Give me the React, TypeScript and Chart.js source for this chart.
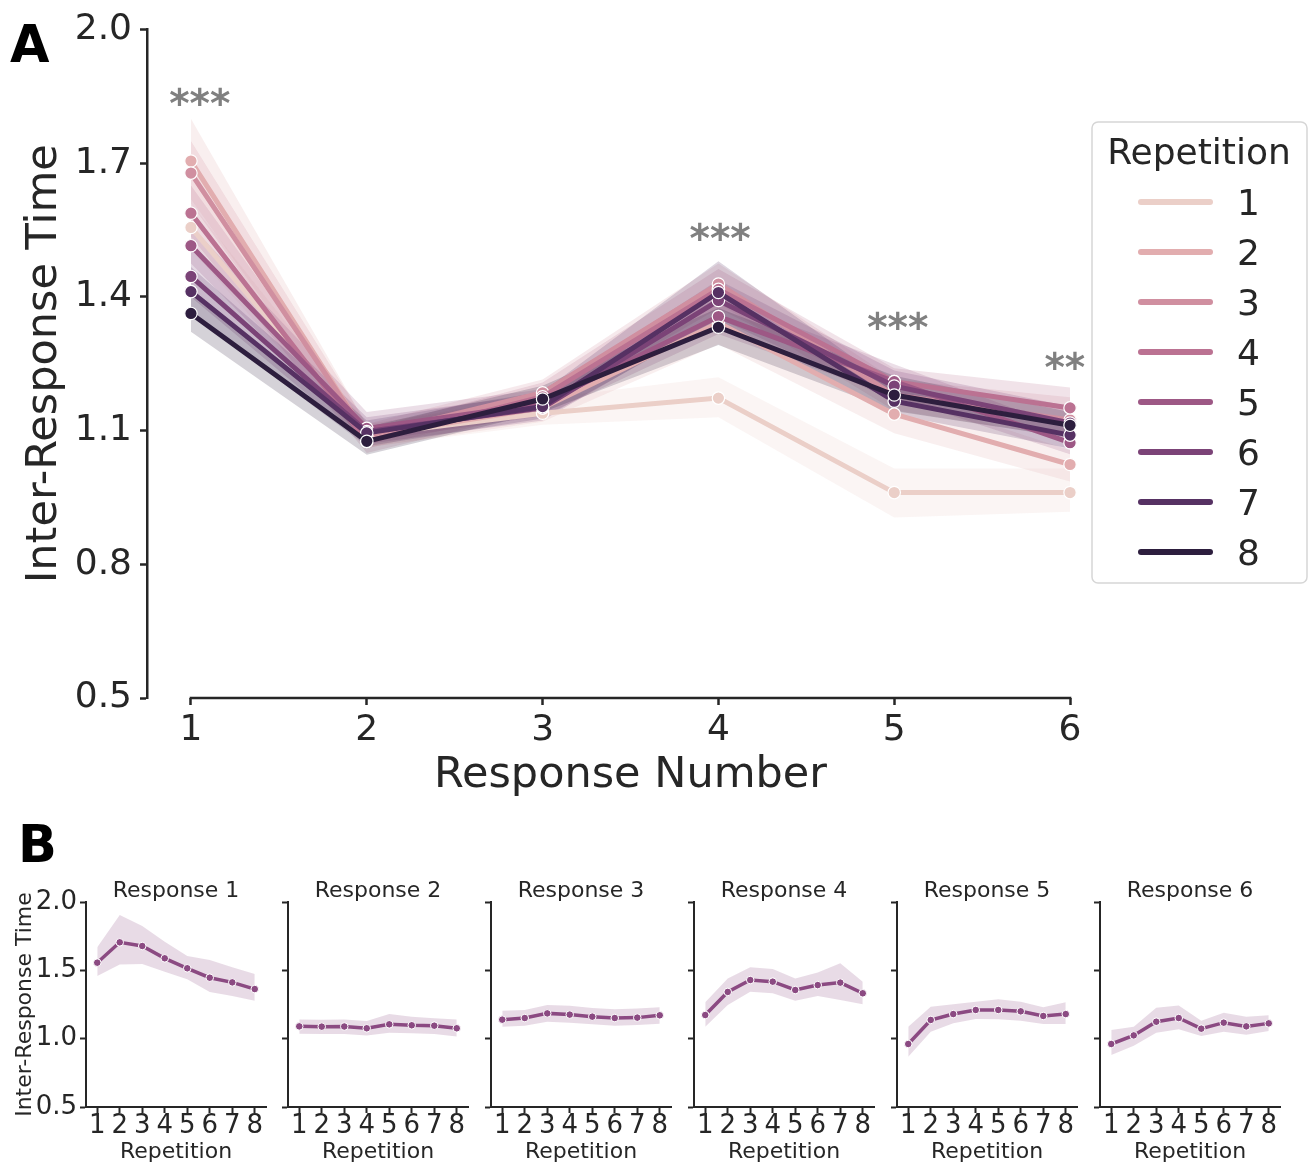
import React, { useEffect, useRef } from 'react';
import { Chart, registerables } from 'chart.js';

Chart.register(...registerables);

const FONT = '"DejaVu Sans", "Liberation Sans", sans-serif';
const INK = '#262626';

// ---------- data ----------
const responses = [1, 2, 3, 4, 5, 6];
const repetitions = [1, 2, 3, 4, 5, 6, 7, 8];
const repColors = ['#ebcfc8', '#e2adaf', '#d08fa0', '#bb7292', '#9d5885', '#7b4377', '#563163', '#2d1e3e'];
const yTicksA = [0.5, 0.8, 1.1, 1.4, 1.7, 2.0];
const yTicksB = [0.5, 1.0, 1.5, 2.0];

// mean inter-response time, [repetition][response]
const meanIRT = [
  [1.556, 1.090, 1.139, 1.173, 0.961, 0.961],
  [1.705, 1.088, 1.151, 1.342, 1.137, 1.024],
  [1.678, 1.089, 1.185, 1.429, 1.180, 1.124],
  [1.588, 1.076, 1.176, 1.417, 1.210, 1.151],
  [1.515, 1.105, 1.161, 1.356, 1.210, 1.073],
  [1.446, 1.098, 1.151, 1.392, 1.200, 1.117],
  [1.412, 1.095, 1.154, 1.410, 1.166, 1.090],
  [1.363, 1.076, 1.171, 1.332, 1.180, 1.112],
];

// panel A error bands, [repetition][response]
const ciLowA = [
  [1.507, 1.063, 1.113, 1.130, 0.905, 0.918],
  [1.620, 1.062, 1.120, 1.294, 1.094, 0.986],
  [1.610, 1.060, 1.155, 1.386, 1.146, 1.084],
  [1.535, 1.050, 1.146, 1.374, 1.177, 1.110],
  [1.475, 1.075, 1.133, 1.317, 1.176, 1.047],
  [1.400, 1.070, 1.123, 1.352, 1.166, 1.084],
  [1.362, 1.065, 1.127, 1.347, 1.136, 1.060],
  [1.322, 1.046, 1.141, 1.292, 1.144, 1.084],
];
const ciHighA = [
  [1.610, 1.115, 1.172, 1.220, 1.015, 1.015],
  [1.800, 1.113, 1.180, 1.390, 1.185, 1.056],
  [1.750, 1.115, 1.215, 1.475, 1.215, 1.175],
  [1.650, 1.103, 1.208, 1.463, 1.240, 1.197],
  [1.560, 1.142, 1.193, 1.398, 1.249, 1.103],
  [1.510, 1.130, 1.183, 1.438, 1.235, 1.154],
  [1.467, 1.123, 1.187, 1.480, 1.198, 1.126],
  [1.410, 1.108, 1.201, 1.375, 1.223, 1.142],
];

// panel B error bands, [repetition][response]
const ciLowB = [
  [1.458, 1.036, 1.088, 1.088, 0.868, 0.880],
  [1.542, 1.034, 1.095, 1.246, 1.051, 0.949],
  [1.546, 1.035, 1.124, 1.344, 1.112, 1.044],
  [1.490, 1.024, 1.117, 1.332, 1.144, 1.068],
  [1.434, 1.043, 1.105, 1.278, 1.142, 1.020],
  [1.341, 1.040, 1.095, 1.312, 1.132, 1.051],
  [1.312, 1.034, 1.100, 1.283, 1.107, 1.029],
  [1.278, 1.015, 1.110, 1.251, 1.107, 1.056],
];
const ciHighB = [
  [1.668, 1.140, 1.205, 1.266, 1.088, 1.063],
  [1.905, 1.138, 1.210, 1.441, 1.234, 1.088],
  [1.824, 1.140, 1.246, 1.522, 1.251, 1.227],
  [1.710, 1.130, 1.240, 1.510, 1.271, 1.242],
  [1.605, 1.180, 1.225, 1.441, 1.288, 1.132],
  [1.575, 1.160, 1.215, 1.485, 1.271, 1.190],
  [1.522, 1.150, 1.220, 1.551, 1.229, 1.161],
  [1.473, 1.140, 1.230, 1.417, 1.266, 1.171],
];

const sigLabels = ['***', '***', '***', '**'];
const sigX = [1.05, 4.01, 5.02, 5.97];
const sigY = [1.852, 1.548, 1.349, 1.259];
const panelBColor = '#8b4a82';

// ---------- helpers ----------
function rgba(hex: string, a: number) {
  const n = parseInt(hex.slice(1), 16);
  return `rgba(${(n >> 16) & 255},${(n >> 8) & 255},${n & 255},${a})`;
}
const pts = (xs: number[], ys: number[]) => xs.map((x, i) => ({ x, y: ys[i] }));

// ---------- panel A ----------
const mainDecor = {
  id: 'mainDecor',
  afterDraw(chart: any) {
    const { ctx, chartArea, scales } = chart;
    const x = scales.x;
    const y = scales.y;
    ctx.save();
    // trimmed x spine
    ctx.strokeStyle = INK;
    ctx.lineWidth = 2.5;
    ctx.beginPath();
    ctx.moveTo(x.getPixelForValue(responses[0]) - 1.25, chartArea.bottom);
    ctx.lineTo(x.getPixelForValue(responses[responses.length - 1]) + 1.25, chartArea.bottom);
    ctx.stroke();
    // significance stars
    ctx.fillStyle = '#808080';
    ctx.font = `bold 39px ${FONT}`;
    ctx.textAlign = 'center';
    ctx.textBaseline = 'alphabetic';
    sigLabels.forEach((t, i) => {
      ctx.fillText(t, x.getPixelForValue(sigX[i]), y.getPixelForValue(sigY[i]) + 21);
    });
    // panel letter
    ctx.fillStyle = '#000';
    ctx.font = `bold 51px ${FONT}`;
    ctx.textAlign = 'left';
    ctx.fillText('A', 10, 62);
    // legend
    const bx = 1092, by = 122, bw = 215, bh = 461, r = 6;
    ctx.beginPath();
    ctx.moveTo(bx + r, by);
    ctx.arcTo(bx + bw, by, bx + bw, by + bh, r);
    ctx.arcTo(bx + bw, by + bh, bx, by + bh, r);
    ctx.arcTo(bx, by + bh, bx, by, r);
    ctx.arcTo(bx, by, bx + bw, by, r);
    ctx.closePath();
    ctx.fillStyle = 'rgba(255,255,255,0.8)';
    ctx.fill();
    ctx.strokeStyle = '#d6d6d6';
    ctx.lineWidth = 1.5;
    ctx.stroke();
    ctx.fillStyle = INK;
    ctx.font = `36px ${FONT}`;
    ctx.textAlign = 'center';
    ctx.fillText('Repetition', bx + bw / 2 - 0.5, 164);
    ctx.textAlign = 'left';
    ctx.lineCap = 'round';
    repetitions.forEach((rep, k) => {
      const ly = 202 + k * 50;
      ctx.strokeStyle = repColors[k];
      ctx.lineWidth = 6;
      ctx.beginPath();
      ctx.moveTo(1141, ly);
      ctx.lineTo(1210, ly);
      ctx.stroke();
      ctx.fillStyle = INK;
      ctx.fillText(String(rep), 1237, ly + 13);
    });
    ctx.restore();
  },
};

function buildMainConfig(): any {
  const datasets: any[] = [];
  repetitions.forEach((rep, k) => {
    const col = repColors[k];
    datasets.push({
      label: `upper ${rep}`,
      data: pts(responses, ciHighA[k]),
      borderColor: 'rgba(0,0,0,0)',
      borderWidth: 0,
      pointRadius: 0,
      fill: false,
      order: 100 - k,
    });
    datasets.push({
      label: `lower ${rep}`,
      data: pts(responses, ciLowA[k]),
      borderColor: 'rgba(0,0,0,0)',
      borderWidth: 0,
      pointRadius: 0,
      fill: '-1',
      backgroundColor: rgba(col, 0.2),
      order: 100 - k,
    });
    datasets.push({
      label: String(rep),
      data: pts(responses, meanIRT[k]),
      borderColor: col,
      backgroundColor: col,
      borderWidth: 5,
      pointRadius: 6.2,
      pointBackgroundColor: col,
      pointBorderColor: '#ffffff',
      pointBorderWidth: 1.2,
      fill: false,
      order: 20 - k,
    });
  });
  return {
    type: 'line',
    data: { datasets },
    plugins: [mainDecor],
    options: {
      responsive: false,
      animation: false,
      events: [],
      layout: { padding: { top: 28, right: 195, bottom: 0, left: 0 } },
      plugins: { legend: { display: false }, tooltip: { enabled: false }, title: { display: false } },
      scales: {
        x: {
          type: 'linear',
          min: 0.75,
          max: 6.25,
          afterBuildTicks: (s: any) => { s.ticks = responses.map((v) => ({ value: v })); },
          afterFit: (s: any) => { s.height = 110; },
          border: { display: false },
          grid: { drawOnChartArea: false, drawTicks: true, tickLength: 7, tickWidth: 2.5, tickColor: INK },
          ticks: {
            color: INK,
            font: { family: FONT, size: 36, lineHeight: 1.2 },
            padding: 4,
            maxRotation: 0,
            autoSkip: false,
            callback: (v: any) => String(v),
          },
          title: {
            display: true,
            text: 'Response Number',
            color: INK,
            font: { family: FONT, size: 43, lineHeight: 1 },
            padding: { top: 0, bottom: 10.5 },
          },
        },
        y: {
          type: 'linear',
          min: 0.5,
          max: 2.0,
          afterBuildTicks: (s: any) => { s.ticks = yTicksA.map((v) => ({ value: v })); },
          afterFit: (s: any) => { s.width = 147; },
          border: { display: true, color: INK, width: 2.5 },
          grid: { drawOnChartArea: false, drawTicks: true, tickLength: 7, tickWidth: 2.5, tickColor: INK },
          ticks: {
            color: INK,
            font: { family: FONT, size: 36, lineHeight: 1.2 },
            padding: 8,
            callback: (v: any) => Number(v).toFixed(1),
          },
          title: {
            display: true,
            text: 'Inter-Response Time',
            color: INK,
            font: { family: FONT, size: 43, lineHeight: 1 },
            padding: { top: 23.5, bottom: 0 },
          },
        },
      },
    },
  };
}

// ---------- panel B ----------
const spineX = [86, 288, 491, 694, 897, 1100];

const letterB = {
  id: 'letterB',
  afterDraw(chart: any) {
    const { ctx } = chart;
    ctx.save();
    ctx.fillStyle = '#000';
    ctx.font = `bold 51px ${FONT}`;
    ctx.textAlign = 'left';
    ctx.textBaseline = 'alphabetic';
    ctx.fillText('B', 18, 47);
    ctx.restore();
  },
};

function buildSubConfig(r: number): any {
  const first = r === 0;
  const mean = repetitions.map((_, k) => meanIRT[k][r]);
  const lo = repetitions.map((_, k) => ciLowB[k][r]);
  const hi = repetitions.map((_, k) => ciHighB[k][r]);
  return {
    type: 'line',
    data: {
      datasets: [
        { label: 'upper', data: pts(repetitions, hi), borderColor: 'rgba(0,0,0,0)', borderWidth: 0, pointRadius: 0, fill: false, order: 10 },
        { label: 'lower', data: pts(repetitions, lo), borderColor: 'rgba(0,0,0,0)', borderWidth: 0, pointRadius: 0, fill: '-1', backgroundColor: rgba(panelBColor, 0.2), order: 10 },
        {
          label: `Response ${responses[r]}`,
          data: pts(repetitions, mean),
          borderColor: panelBColor,
          backgroundColor: panelBColor,
          borderWidth: 3.5,
          pointRadius: 3.8,
          pointBackgroundColor: panelBColor,
          pointBorderColor: '#ffffff',
          pointBorderWidth: 1,
          fill: false,
          order: 1,
        },
      ],
    },
    plugins: first ? [letterB] : [],
    options: {
      responsive: false,
      animation: false,
      events: [],
      layout: { padding: { top: 65, right: 20, bottom: 0, left: 0 } },
      plugins: {
        legend: { display: false },
        tooltip: { enabled: false },
        title: {
          display: true,
          text: `Response ${responses[r]}`,
          fullSize: false,
          color: INK,
          font: { family: FONT, size: 22, lineHeight: 1, weight: 'normal' },
          padding: { top: 0, bottom: 0 },
        },
      },
      scales: {
        x: {
          type: 'linear',
          min: 0.5,
          max: 8.5,
          afterBuildTicks: (s: any) => { s.ticks = repetitions.map((v) => ({ value: v })); },
          afterFit: (s: any) => { s.height = 56; },
          border: { display: true, color: INK, width: 2 },
          grid: { drawOnChartArea: false, drawTicks: true, tickLength: 6, tickWidth: 2, tickColor: INK },
          ticks: {
            color: INK,
            font: { family: FONT, size: 26, lineHeight: 1 },
            padding: 0,
            maxRotation: 0,
            autoSkip: false,
            callback: (v: any) => String(v),
          },
          title: {
            display: true,
            text: 'Repetition',
            color: INK,
            font: { family: FONT, size: 22, lineHeight: 1 },
            padding: { top: 0, bottom: 0 },
          },
        },
        y: {
          type: 'linear',
          min: 0.5,
          max: 2.0,
          afterBuildTicks: (s: any) => { s.ticks = yTicksB.map((v) => ({ value: v })); },
          afterFit: (s: any) => { s.width = first ? 86 : 10; },
          border: { display: true, color: INK, width: 2 },
          grid: { drawOnChartArea: false, drawTicks: true, tickLength: 6, tickWidth: 2, tickColor: INK },
          ticks: {
            display: first,
            color: INK,
            font: { family: FONT, size: 26, lineHeight: 1.2 },
            padding: 3,
            callback: (v: any) => Number(v).toFixed(1),
          },
          title: {
            display: first,
            text: 'Inter-Response Time',
            color: INK,
            font: { family: FONT, size: 22, lineHeight: 1 },
            padding: { top: 14, bottom: 0 },
          },
        },
      },
    },
  };
}

// ---------- components ----------
function ChartCanvas(props: { build: () => any; left: number; top: number; width: number; height: number }) {
  const ref = useRef<HTMLCanvasElement | null>(null);
  useEffect(() => {
    if (!ref.current) return;
    const chart = new Chart(ref.current, props.build());
    return () => chart.destroy();
  }, []);
  return (
    <canvas
      ref={ref}
      width={props.width}
      height={props.height}
      style={{ position: 'absolute', left: props.left, top: props.top, width: props.width, height: props.height }}
    />
  );
}

export default function App() {
  return (
    <div style={{ position: 'absolute', left: 0, top: 0, width: 1309, height: 1163, background: '#fff', overflow: 'hidden' }}>
      <ChartCanvas build={buildMainConfig} left={0} top={0} width={1309} height={808} />
      {responses.map((resp, r) => {
        const yW = r === 0 ? 86 : 10;
        return (
          <ChartCanvas
            key={resp}
            build={() => buildSubConfig(r)}
            left={spineX[r] - yW}
            top={815}
            width={yW + 180 + 20}
            height={348}
          />
        );
      })}
    </div>
  );
}
